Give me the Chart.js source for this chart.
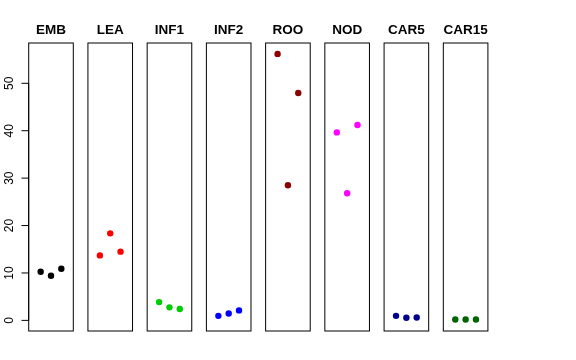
<!DOCTYPE html>
<html>
<head>
<meta charset="utf-8">
<script src="https://cdn.jsdelivr.net/npm/chart.js@4"></script>
<style>
  body { margin: 0; background: #fff; }
  #wrap { position: relative; width: 576px; height: 360px; }
  #wrap canvas { position: absolute; left: 0; top: 0; }
</style>
</head>
<body>
<div id="wrap"></div>
<script>
// panel names and values (3 replicates each)
var groups = ['EMB', 'LEA', 'INF1', 'INF2', 'ROO', 'NOD', 'CAR5', 'CAR15'];
var replicate = [1, 2, 3];
var emb = [10.25, 9.4, 10.9];
var lea = [13.7, 18.35, 14.5];
var inf1 = [3.85, 2.75, 2.4];
var inf2 = [0.95, 1.45, 2.1];
var roo = [56.2, 28.5, 47.95];
var nod = [39.65, 26.8, 41.2];
var car5 = [0.95, 0.55, 0.6];
var car15 = [0.2, 0.2, 0.2];
var series = [emb, lea, inf1, inf2, roo, nod, car5, car15];
var colores = ['#000000', '#ff0000', '#00cd00', '#0000ff', '#8b0000', '#ff00ff', '#00008b', '#006400'];
var yTicks = [0, 10, 20, 30, 40, 50];

var yMin = -2.24, yMax = 58.5;
var xMin = -0.16, xMax = 4.16;

var panelLeft = 28.7, panelStep = 59.23, panelWidth = 44.6;
var panelTop = 43, panelBottom = 331;

var wrap = document.getElementById('wrap');

var panelPlugin = {
  id: 'panel',
  beforeDatasetsDraw: function (chart) {
    var ctx = chart.ctx;
    var a = chart.chartArea;
    var opts = chart.options.plugins.panel;
    ctx.save();
    // box
    ctx.strokeStyle = '#000';
    ctx.lineWidth = 1;
    ctx.strokeRect(a.left, a.top, a.right - a.left, a.bottom - a.top);
    // title
    ctx.fillStyle = '#000';
    ctx.font = 'bold 13.5px "Liberation Sans", Arial, sans-serif';
    ctx.textAlign = 'center';
    ctx.textBaseline = 'alphabetic';
    ctx.fillText(opts.title, (a.left + a.right) / 2, 34);
    // y axis on first panel only
    if (opts.axis) {
      var y = chart.scales.y;
      var y0 = y.getPixelForValue(yTicks[0]);
      var y1 = y.getPixelForValue(yTicks[yTicks.length - 1]);
      ctx.beginPath();
      ctx.moveTo(a.left, y0);
      ctx.lineTo(a.left, y1);
      yTicks.forEach(function (t) {
        var py = y.getPixelForValue(t);
        ctx.moveTo(a.left, py);
        ctx.lineTo(a.left - 7.2, py);
      });
      ctx.stroke();
      ctx.font = '12px "Liberation Sans", Arial, sans-serif';
      yTicks.forEach(function (t) {
        var py = y.getPixelForValue(t);
        ctx.save();
        ctx.translate(12.5, py);
        ctx.rotate(-Math.PI / 2);
        ctx.textAlign = 'center';
        ctx.textBaseline = 'alphabetic';
        ctx.fillText(String(t), 0, 0);
        ctx.restore();
      });
    }
    ctx.restore();
  }
};

var graficas = groups.map(function (nombre, i) {
  var canvas = document.createElement('canvas');
  canvas.width = 576;
  canvas.height = 360;
  wrap.appendChild(canvas);
  var left = panelLeft + panelStep * i;
  return new Chart(canvas.getContext('2d'), {
    type: 'scatter',
    data: {
      datasets: [{
        data: series[i].map(function (v, k) { return { x: replicate[k], y: v }; }),
        backgroundColor: colores[i],
        borderColor: colores[i],
        pointRadius: 3.2,
        pointBorderWidth: 0
      }]
    },
    options: {
      responsive: false,
      animation: false,
      layout: {
        padding: { left: left, right: 576 - left - panelWidth, top: panelTop, bottom: 360 - panelBottom }
      },
      scales: {
        x: { display: false, min: xMin, max: xMax },
        y: { display: false, min: yMin, max: yMax }
      },
      plugins: {
        legend: { display: false },
        tooltip: { enabled: false },
        panel: { title: nombre, axis: i === 0 }
      }
    },
    plugins: [panelPlugin]
  });
});
</script>
</body>
</html>
